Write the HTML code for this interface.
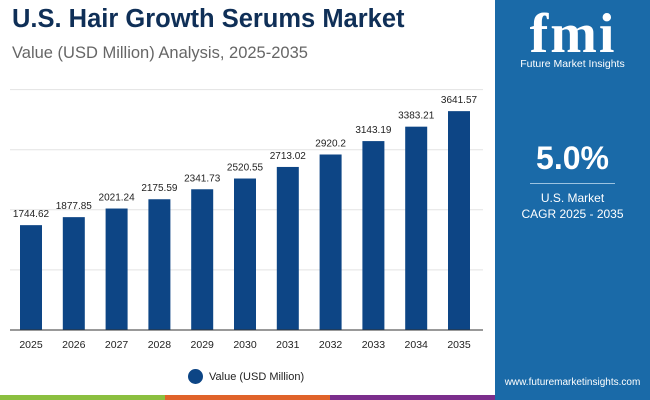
<!DOCTYPE html>
<html><head><meta charset="utf-8"><style>
body{margin:0;width:650px;height:400px;position:relative;overflow:hidden;background:#fff;font-family:"Liberation Sans",sans-serif}
.abs{position:absolute}
</style></head><body>
<div class="abs" style="left:12px;top:5px;font-size:25.5px;font-weight:bold;color:#0f2f57">U.S. Hair Growth Serums Market</div>
<div class="abs" style="left:12px;top:44px;font-size:16.5px;color:#666">Value (USD Million) Analysis, 2025-2035</div>
<div class="abs" style="left:495px;top:0;width:155px;height:400px;background:#1a6aa8">
  <div class="abs" style="left:18px;top:4px;width:120px;font-size:56px;font-weight:bold;color:#fff;text-align:center;letter-spacing:2px;line-height:60px;font-family:'Liberation Serif',serif">fmi</div>
  <div class="abs" style="left:0;top:58px;width:155px;text-align:center;font-size:10.5px;color:#fff">Future Market Insights</div>
  <div class="abs" style="left:0;top:140px;width:155px;text-align:center;font-size:32px;font-weight:bold;color:#fff">5.0%</div>
  <div class="abs" style="left:35px;top:183px;width:85px;height:1px;background:#9cc3e0"></div>
  <div class="abs" style="left:0;top:190px;width:155px;text-align:center;font-size:12px;color:#fff;line-height:16px">U.S. Market<br>CAGR 2025 - 2035</div>
  <div class="abs" style="left:0;top:377px;width:155px;text-align:center;font-size:10px;color:#fff">www.futuremarketinsights.com</div>
</div>
<div class="abs" style="left:0;top:395px;width:165px;height:5px;background:#8bbf3f"></div>
<div class="abs" style="left:165px;top:395px;width:165px;height:5px;background:#e0632a"></div>
<div class="abs" style="left:330px;top:395px;width:165px;height:5px;background:#7b2e8c"></div>
<svg class="abs" style="left:0;top:0" width="495" height="395" id="chart"></svg>
<div class="abs" style="left:188px;top:369px;font-size:11px;color:#222;display:flex;align-items:center">
  <span style="width:15px;height:15px;border-radius:50%;background:#0d4585;display:inline-block;margin-right:6px"></span>Value (USD Million)</div>
<script>
const categories=["2025","2026","2027","2028","2029","2030","2031","2032","2033","2034","2035"];
const values=[1744.62,1877.85,2021.24,2175.59,2341.73,2520.55,2713.02,2920.2,3143.19,3383.21,3641.57];
const labels=["1744.62","1877.85","2021.24","2175.59","2341.73","2520.55","2713.02","2920.2","3143.19","3383.21","3641.57"];
const gridTicks=[1000,2000,3000,4000];
const ns="http://www.w3.org/2000/svg",svg=document.getElementById('chart');
const y=v=>330-v*0.0601, x=i=>31+i*42.8;
function mk(t,a){const e=document.createElementNS(ns,t);for(const k in a)e.setAttribute(k,a[k]);svg.appendChild(e);return e;}
gridTicks.forEach(t=>{const l=mk('line',{x1:10,x2:483,y1:y(t),y2:y(t),stroke:'#e3e3e3','stroke-width':1});

});
values.forEach((v,i)=>{
const r=mk('rect',{x:x(i)-11,y:y(v),width:22,height:330-y(v),fill:'#0d4585'});


const t=mk('text',{x:x(i),y:y(v)-8,'text-anchor':'middle','font-size':10,fill:'#222'});t.textContent=labels[i];


const c=mk('text',{x:x(i),y:348,'text-anchor':'middle','font-size':10.5,fill:'#222'});c.textContent=categories[i];


});
const ax=mk('line',{x1:10,x2:483,y1:330,y2:330,stroke:'#333','stroke-width':1});


</script>
</body></html>
